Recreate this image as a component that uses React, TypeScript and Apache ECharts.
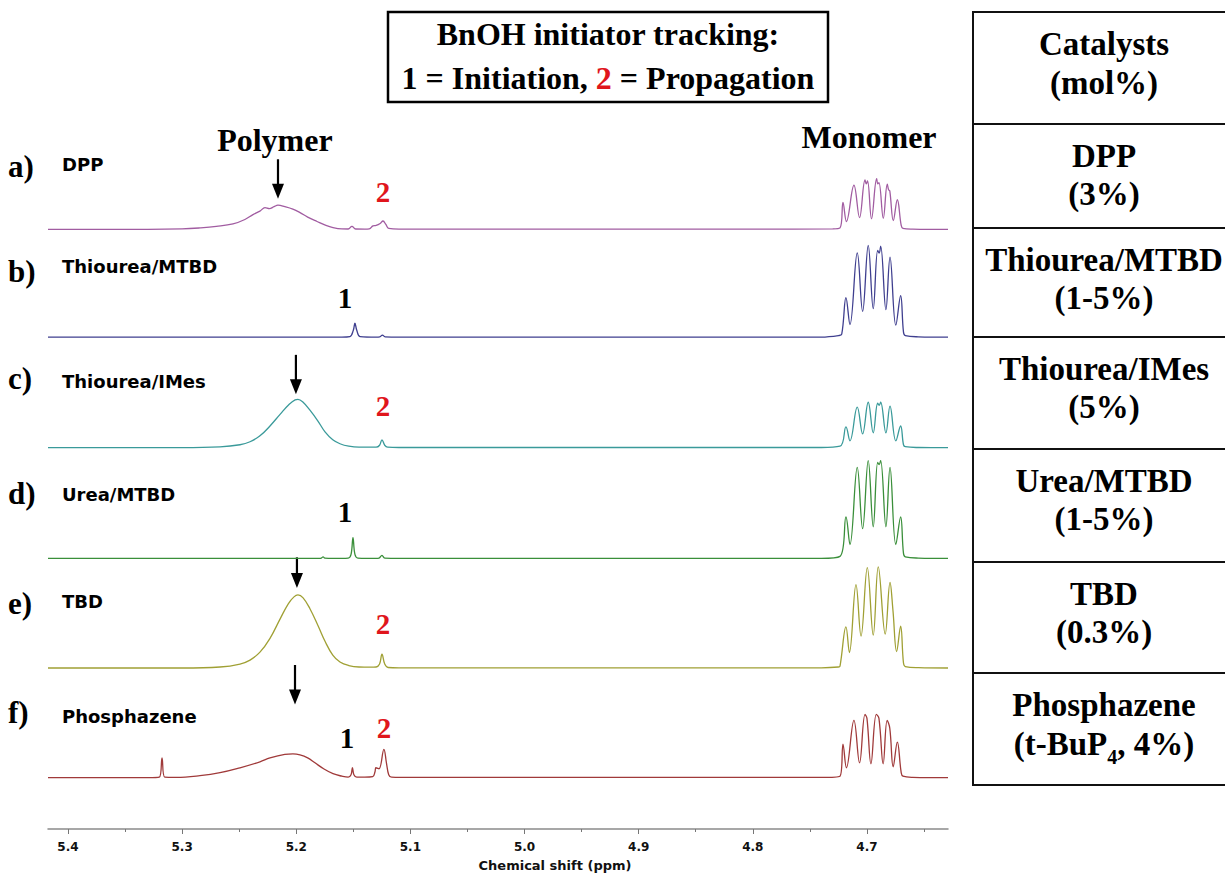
import React, { useEffect, useRef } from "react";
import * as echarts from "echarts";

// ---------- axis ticks ----------
const tickLabels = [5.4, 5.3, 5.2, 5.1, 5.0, 4.9, 4.8, 4.7];
const minorTicks = [5.35, 5.25, 5.15, 5.05, 4.95, 4.85, 4.75, 4.65];

// ---------- rows ----------
const letters = ["a)", "b)", "c)", "d)", "e)", "f)"];
const catalysts = ["DPP", "Thiourea/MTBD", "Thiourea/IMes", "Urea/MTBD", "TBD", "Phosphazene"];
const loadings = ["(3%)", "(1-5%)", "(5%)", "(1-5%)", "(0.3%)", "{m|(t-BuP}{sub|4}{m|, 4%)}"];
const offsets = [607, 498, 386, 274, 163, 52];
const colors = ["#a15ca1", "#3f3f8f", "#3a9a9a", "#3a8f3a", "#a0a034", "#a03a3a"];

// ---------- spectra: [ppm, intensity] ----------
const specDPP: [number, number][] = [
  [5.4175, 0], [5.33, 0], [5.30, 0.5], [5.2844, 1.5], [5.27, 3], [5.2554, 5.5], [5.245, 10], [5.2379, 15],
  [5.2318, 18.5], [5.2274, 22], [5.2235, 21], [5.2195, 23], [5.216, 24.5], [5.21, 23], [5.203, 20.5],
  [5.1967, 17], [5.19, 12.5], [5.1818, 8], [5.174, 4], [5.1678, 1.8], [5.16, 0.5], [5.1545, 0.4],
  [5.1512, 3], [5.148, 0.4], [5.14, 0.3], [5.136, 0.5], [5.1328, 3.5], [5.13, 4], [5.1265, 6],
  [5.124, 8.5], [5.1215, 5], [5.119, 1], [5.11, 0.3], [4.8, 0.3], [4.73, 0.5], [4.7236, 1.5],
  [4.721, 27.3], [4.718, 8], [4.7114, 44.7], [4.7065, 12], [4.7017, 50], [4.7006, 46], [4.6995, 49],
  [4.696, 10.7], [4.6915, 51.3], [4.6905, 46], [4.6895, 47.3], [4.6857, 11.3], [4.6822, 45.7],
  [4.681, 40], [4.68, 39], [4.6769, 9], [4.6734, 30], [4.67, 4], [4.6685, 1], [4.66, 0.3], [4.629, 0],
];
const specThioMTBD: [number, number][] = [
  [5.4175, 0], [5.16, 0], [5.153, 0.5], [5.15, 7], [5.1486, 14], [5.147, 7], [5.144, 0.5], [5.13, 0],
  [5.1268, 0.3], [5.1245, 2], [5.1222, 0.3], [5.11, 0], [4.74, 0], [4.725, 1.5], [4.7221, 3],
  [4.7184, 40], [4.7149, 12.7], [4.7085, 85.3], [4.7038, 26], [4.6989, 92.7], [4.6945, 28.7],
  [4.6906, 87.7], [4.6893, 85], [4.688, 92], [4.6834, 27.7], [4.6798, 81], [4.6747, 12], [4.6705, 42],
  [4.668, 5], [4.6664, 1.5], [4.655, 0.3], [4.629, 0],
];
const specThioIMes: [number, number][] = [
  [5.4175, 0], [5.3, 0], [5.2668, 0.8], [5.2493, 3], [5.2405, 6], [5.2318, 12], [5.223, 22], [5.214, 34],
  [5.207, 43], [5.201, 48.5], [5.1985, 49], [5.194, 46], [5.188, 38], [5.181, 27], [5.1748, 16],
  [5.168, 8], [5.1617, 4], [5.154, 1.5], [5.145, 0.5], [5.13, 0.5], [5.127, 2.5], [5.1249, 8],
  [5.1225, 2.5], [5.12, 0.5], [5.11, 0.2], [4.74, 0.2], [4.7236, 1.5], [4.7184, 21], [4.7149, 7],
  [4.7085, 41], [4.7038, 14], [4.6989, 46], [4.6945, 15], [4.6906, 45], [4.6893, 43], [4.688, 46],
  [4.6834, 15], [4.6798, 42], [4.6747, 7], [4.6705, 22], [4.668, 3], [4.6664, 1], [4.655, 0.2], [4.629, 0],
];
const specUreaMTBD: [number, number][] = [
  [5.4175, 0], [5.18, 0], [5.178, 0.3], [5.1765, 1.5], [5.175, 0.3], [5.16, 0], [5.1545, 0.3], [5.152, 4],
  [5.1503, 21], [5.1486, 4], [5.146, 0.3], [5.13, 0], [5.1275, 0.3], [5.1249, 3], [5.1225, 0.3],
  [5.11, 0], [4.74, 0], [4.7236, 2], [4.7184, 42], [4.7149, 14], [4.7085, 92], [4.7038, 30],
  [4.6989, 99], [4.6945, 32], [4.6906, 97], [4.6893, 95], [4.688, 99], [4.6834, 32], [4.6798, 92],
  [4.6747, 14], [4.6705, 42], [4.668, 5], [4.6664, 1.5], [4.655, 0.3], [4.629, 0],
];
const specTBD: [number, number][] = [
  [5.4175, 0], [5.3, 0], [5.2668, 1], [5.2493, 4], [5.2405, 8], [5.2318, 16], [5.223, 30], [5.214, 50],
  [5.207, 65], [5.202, 72], [5.1985, 74], [5.194, 71], [5.188, 60], [5.181, 43], [5.1748, 27],
  [5.168, 13], [5.1617, 6], [5.154, 2.5], [5.145, 1], [5.135, 0.8], [5.13, 1], [5.127, 4], [5.1249, 14],
  [5.1225, 4], [5.1195, 0.5], [5.11, 0.2], [4.74, 0.2], [4.725, 1], [4.7236, 2], [4.7184, 41.7],
  [4.7154, 15.7], [4.7096, 84.3], [4.7052, 32.3], [4.6997, 101.7], [4.6945, 33.3], [4.6901, 102.3],
  [4.684, 34.3], [4.6798, 86.7], [4.6772, 58], [4.674, 16.7], [4.6705, 42.3], [4.668, 5], [4.6664, 1.5],
  [4.655, 0.3], [4.629, 0],
];
const specPhosph: [number, number][] = [
  [5.4175, 0], [5.33, 0], [5.32, 0.5], [5.3176, 20], [5.3152, 0.5], [5.305, 0.3], [5.2844, 2], [5.2668, 5],
  [5.2493, 10], [5.2318, 16], [5.223, 20], [5.21, 23.5], [5.2029, 24], [5.1967, 23], [5.19, 20],
  [5.1836, 15], [5.176, 9], [5.1678, 4], [5.16, 1.5], [5.1545, 0.5], [5.152, 3], [5.1508, 10],
  [5.1495, 3], [5.147, 0.5], [5.14, 0.5], [5.133, 1], [5.131, 6], [5.1302, 10], [5.1275, 9],
  [5.1232, 28.7], [5.121, 15], [5.119, 3], [5.1165, 0.5], [5.1, 0.2], [4.74, 0.2], [4.7236, 1.5],
  [4.721, 34], [4.718, 10], [4.7114, 58], [4.7065, 15], [4.7017, 64], [4.7, 60], [4.6965, 14],
  [4.6918, 64], [4.6895, 60], [4.6858, 14], [4.6823, 58], [4.68, 50], [4.677, 11], [4.6734, 36],
  [4.67, 5], [4.6685, 1.5], [4.66, 0.3], [4.629, 0],
];
const spectra = [specDPP, specThioMTBD, specThioIMes, specUreaMTBD, specTBD, specPhosph];

// ---------- annotations (ppm, height above each trace's baseline) ----------
const arrows = [
  { s: 0, ppm: 5.216, from: 71, to: 31 },
  { s: 2, ppm: 5.2003, from: 94, to: 54 },
  { s: 4, ppm: 5.1994, from: 112, to: 81 },
  { s: 5, ppm: 5.2011, from: 114, to: 74 },
];
const peakMarks = [
  { s: 0, ppm: 5.124, h: 38, t: "2" },
  { s: 1, ppm: 5.1573, h: 40, t: "1" },
  { s: 2, ppm: 5.124, h: 42, t: "2" },
  { s: 3, ppm: 5.1573, h: 47, t: "1" },
  { s: 4, ppm: 5.124, h: 45, t: "2" },
  { s: 5, ppm: 5.1556, h: 40, t: "1" },
  { s: 5, ppm: 5.1231, h: 50, t: "2" },
];
const regionLabels = [
  { s: 0, ppm: 5.2187, h: 91, t: "Polymer" },
  { s: 0, ppm: 4.6982, h: 94, t: "Monomer" },
];

const SERIF = "Liberation Serif";
const SANS = "DejaVu Sans";
const RED = "#e0161c";

export default function App() {
  const ref = useRef<HTMLDivElement>(null);
  useEffect(() => {
    if (!ref.current) return;
    const chart = echarts.init(ref.current, undefined, { renderer: "svg" });
    const axisCommon = {
      type: "value" as const,
      min: 4.629,
      max: 5.4175,
      inverse: true,
      position: "bottom" as const,
      gridIndex: 0,
      splitLine: { show: false },
    };
    chart.setOption({
      animation: false,
      backgroundColor: "#ffffff",
      grid: { left: 48, right: 277, top: 100, bottom: 39 },
      xAxis: [
        {
          ...axisCommon,
          axisLine: { show: true, lineStyle: { color: "#8a8a8a", width: 1.5 } },
          axisTick: { show: true, customValues: tickLabels, length: 5, lineStyle: { color: "#777", width: 1 } },
          axisLabel: {
            show: true,
            customValues: tickLabels,
            margin: 12,
            formatter: (v: number) => v.toFixed(1),
            fontFamily: SANS,
            fontWeight: "bold",
            fontSize: 12,
            color: "#111",
          },
          name: "Chemical shift (ppm)",
          nameLocation: "middle",
          nameGap: 30,
          nameTextStyle: { fontFamily: SANS, fontWeight: "bold", fontSize: 13, color: "#111", padding: [0, 0, 0, 114] },
        },
        {
          ...axisCommon,
          axisLine: { show: false },
          axisTick: { show: true, customValues: minorTicks, length: 3, lineStyle: { color: "#777", width: 1 } },
          axisLabel: { show: false },
        },
      ],
      yAxis: { type: "value", min: 0, max: 738, show: false },
      series: spectra.map((sp, i) => ({
        type: "line",
        name: catalysts[i],
        xAxisIndex: 0,
        yAxisIndex: 0,
        data: sp.map(([p, v]) => [p, v + offsets[i]]),
        showSymbol: false,
        smooth: 0.4,
        silent: true,
        lineStyle: { color: colors[i], width: 1.3 },
        z: 2,
      })),
    });

    const px = (ppm: number, v: number) =>
      chart.convertToPixel({ xAxisIndex: 0, yAxisIndex: 0 }, [ppm, v]) as number[];

    const g: any[] = [];
    // Title box
    g.push({
      type: "rect",
      shape: { x: 388, y: 12, width: 440, height: 90 },
      style: { fill: "#fff", stroke: "#000", lineWidth: 2.5 },
    });
    g.push({
      type: "text",
      x: 608,
      y: 34,
      style: {
        text: "BnOH initiator tracking:",
        fontFamily: SERIF, fontWeight: "bold", fontSize: 32, fill: "#000",
        align: "center", verticalAlign: "middle",
      },
    });
    g.push({
      type: "text",
      x: 608,
      y: 78,
      style: {
        text: "1 = Initiation, {r|2} = Propagation",
        fontFamily: SERIF, fontWeight: "bold", fontSize: 32, fill: "#000",
        align: "center", verticalAlign: "middle",
        rich: { r: { fill: RED, fontFamily: SERIF, fontWeight: "bold", fontSize: 32 } },
      },
    });

    // Table
    const rowLines = [12, 124, 228, 337, 449, 562, 673, 785];
    g.push({
      type: "rect",
      shape: { x: 973, y: 12, width: 262, height: 773 },
      style: { fill: "none", stroke: "#111", lineWidth: 2 },
    });
    rowLines.slice(1, -1).forEach((y) =>
      g.push({ type: "line", shape: { x1: 973, y1: y, x2: 1230, y2: y }, style: { stroke: "#111", lineWidth: 2 } })
    );
    const FS = 33;
    const cellText = (t: string, y: number) => ({
      type: "text",
      x: 1104,
      y,
      style: {
        text: t,
        fontFamily: SERIF, fontWeight: "bold", fontSize: FS, fill: "#000",
        align: "center", verticalAlign: "middle",
        rich: {
          m: { fontFamily: SERIF, fontWeight: "bold", fontSize: FS, fill: "#000", verticalAlign: "bottom", padding: [0, 0, 7, 0] },
          sub: { fontFamily: SERIF, fontWeight: "bold", fontSize: 20, fill: "#000", verticalAlign: "bottom" },
        },
      },
    });
    g.push(cellText("Catalysts", rowLines[0] + 32));
    g.push(cellText("(mol%)", rowLines[0] + 71));
    catalysts.forEach((c, i) => {
      g.push(cellText(c, rowLines[i + 1] + 32));
      g.push(cellText(loadings[i], rowLines[i + 1] + (i === 5 ? 74 : 70)));
    });

    // Left labels
    const letterY = [166, 271, 378, 493, 603, 712];
    const nameY = [164, 266, 381, 494, 601, 716];
    letters.forEach((l, i) => {
      g.push({
        type: "text", x: 8, y: letterY[i],
        style: { text: l, fontFamily: SERIF, fontWeight: "bold", fontSize: 31, fill: "#000", align: "left", verticalAlign: "middle" },
      });
      g.push({
        type: "text", x: 62, y: nameY[i],
        style: { text: catalysts[i], fontFamily: SANS, fontWeight: "bold", fontSize: 18, fill: "#000", align: "left", verticalAlign: "middle" },
      });
    });

    // Polymer / Monomer
    regionLabels.forEach((r) => {
      const [x, y] = px(r.ppm, offsets[r.s] + r.h);
      g.push({
        type: "text", x, y,
        style: { text: r.t, fontFamily: SERIF, fontWeight: "bold", fontSize: 32, fill: "#000", align: "center", verticalAlign: "middle" },
      });
    });

    // Peak numbers
    peakMarks.forEach((m) => {
      const [x, y] = px(m.ppm, offsets[m.s] + m.h);
      g.push({
        type: "text", x, y,
        style: {
          text: m.t, fontFamily: SERIF, fontWeight: "bold", fontSize: 29,
          fill: m.t === "2" ? RED : "#000", align: "center", verticalAlign: "middle",
        },
      });
    });

    // Arrows
    arrows.forEach((a) => {
      const [x, y1] = px(a.ppm, offsets[a.s] + a.from);
      const [, y2] = px(a.ppm, offsets[a.s] + a.to);
      const head = 15;
      g.push({ type: "line", shape: { x1: x, y1, x2: x, y2: y2 - head + 2 }, style: { stroke: "#000", lineWidth: 2.2 } });
      g.push({
        type: "polygon",
        shape: { points: [[x - 6, y2 - head], [x + 6, y2 - head], [x, y2]] },
        style: { fill: "#000" },
      });
    });

    chart.setOption({ graphic: g });

    return () => chart.dispose();
  }, []);

  return <div ref={ref} style={{ position: "absolute", left: 0, top: 0, width: 1225, height: 877 }} />;
}
